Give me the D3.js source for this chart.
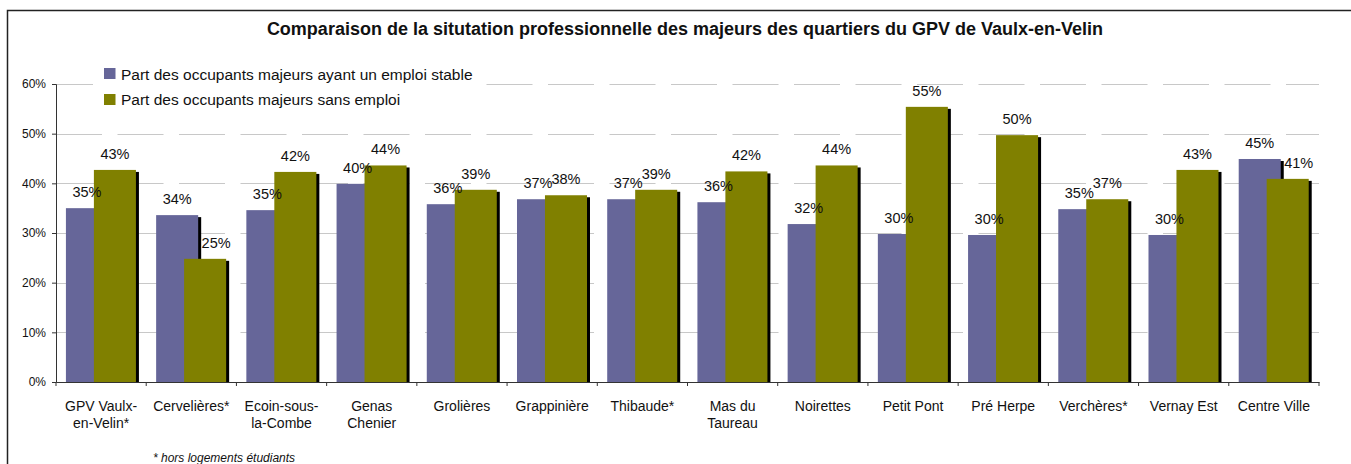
<!DOCTYPE html>
<html>
<head>
<meta charset="utf-8">
<script src="https://cdn.jsdelivr.net/npm/d3@7"></script>
<style>
    body { margin: 0; background: #fff; }
    svg { font-family: "Liberation Sans", Arial, sans-serif; }
</style>
</head>
<body>
<svg id="chart"></svg>
<script>
            // quartiers (\n = retour a la ligne du libelle)
            var categories = ["GPV Vaulx-\nen-Velin*", "Cervelières*", "Ecoin-sous-\nla-Combe", "Genas\nChenier",
                "Grolières", "Grappinière", "Thibaude*", "Mas du\nTaureau", "Noirettes", "Petit Pont",
                "Pré Herpe", "Verchères*", "Vernay Est", "Centre Ville"];

            var emploiStable = [0.350, 0.336, 0.346, 0.399, 0.358, 0.368, 0.368, 0.362, 0.318, 0.298, 0.296, 0.348, 0.296, 0.449];
            var sansEmploi   = [0.427, 0.248, 0.423, 0.436, 0.387, 0.376, 0.387, 0.424, 0.436, 0.554, 0.497, 0.368, 0.427, 0.409];

            var seriesNames = ["Part des occupants majeurs ayant un emploi stable", "Part des occupants majeurs sans emploi"];
            var yTicks = [0, 0.1, 0.2, 0.3, 0.4, 0.5, 0.6];

            var width = 1351;
            var height = 464;
            var margin = {top: 84, left: 56, right: 32, bottom: 82};

            var colors = ["#666699", "#808000"];

            var svg = d3.select("#chart")
                .attr("width", width)
                .attr("height", height);

            // cadre (coupe a droite et en bas)
            svg.append("rect")
                .attr("x", 7.5).attr("y", 10.5)
                .attr("width", width + 20).attr("height", height + 20)
                .attr("fill", "none")
                .attr("stroke", "#222")
                .attr("stroke-width", 1.5);

            svg.append("text")
                .attr("x", 685).attr("y", 35)
                .attr("text-anchor", "middle")
                .attr("font-weight", "bold")
                .attr("font-size", 18)
                .attr("fill", "#111")
                .text("Comparaison de la situtation professionnelle des majeurs des quartiers du GPV de Vaulx-en-Velin");

            var x = d3.scaleBand()
                .domain(categories)
                .range([margin.left, width - margin.right])
                .paddingInner(0).paddingOuter(0);

            var y = d3.scaleLinear()
                .domain([0, 0.6])
                .range([height - margin.bottom, margin.top]);

            var bw = x.bandwidth();
            var barW = bw * 0.466;

            // grille pointillee
            svg.append("g")
                .selectAll("line")
                .data(yTicks.slice(1))
                .enter().append("line")
                .attr("x1", margin.left).attr("x2", width - margin.right)
                .attr("y1", function(d) { return Math.round(y(d)) + 0.5; })
                .attr("y2", function(d) { return Math.round(y(d)) + 0.5; })
                .attr("stroke", "#c8c8c8")
                .attr("stroke-width", 1.2)
                .attr("stroke-dasharray", "46,15.5");

            // barres + ombres
            var groups = svg.append("g")
                .selectAll("g")
                .data(categories)
                .enter().append("g");

            [emploiStable, sansEmploi].forEach(function(values, s) {
                var off = s === 0 ? bw * 0.11 : bw * 0.42;
                groups.append("rect")
                    .attr("x", function(d, i) { return x(d) + off + 3; })
                    .attr("y", function(d, i) { return y(values[i]) + 2; })
                    .attr("width", barW)
                    .attr("height", function(d, i) { return y(0) - y(values[i]) - 2; })
                    .attr("fill", "#000");
                groups.append("rect")
                    .attr("x", function(d, i) { return x(d) + off; })
                    .attr("y", function(d, i) { return y(values[i]); })
                    .attr("width", barW)
                    .attr("height", function(d, i) { return y(0) - y(values[i]); })
                    .attr("fill", colors[s]);
            });

            // etiquettes de valeurs
            var fmt = d3.format(".0%");
            [emploiStable, sansEmploi].forEach(function(values, s) {
                var off = s === 0 ? bw * 0.11 : bw * 0.42;
                svg.append("g")
                    .selectAll("text")
                    .data(categories)
                    .enter().append("text")
                    .attr("x", function(d, i) {
                        var cx = x(d) + off + barW / 2;
                        if (s === 1 && sansEmploi[i] < emploiStable[i]) cx += 11;
                        return cx;
                    })
                    .attr("y", function(d, i) { return y(values[i]) - 11; })
                    .attr("text-anchor", "middle")
                    .attr("font-size", 14.5)
                    .attr("fill", "#111")
                    .text(function(d, i) { return fmt(values[i]); });
            });

            // axes
            var yAxis = svg.append("g")
                .attr("transform", `translate(${margin.left},0)`)
                .call(d3.axisLeft(y).tickValues(yTicks).tickFormat(d3.format(".0%")).tickSize(4).tickPadding(6));

            var xAxis = svg.append("g")
                .attr("transform", `translate(0,${y(0)})`)
                .call(d3.axisBottom(x).tickSize(0).tickFormat(""));

            svg.selectAll(".domain").attr("stroke", "#333");
            yAxis.selectAll("line").attr("stroke", "#333");
            yAxis.selectAll("text").attr("font-size", 12).attr("fill", "#111")
                .attr("font-family", "Liberation Sans, Arial, sans-serif");

            // graduations entre categories
            xAxis.append("g")
                .selectAll("line")
                .data(categories.concat(["fin"]))
                .enter().append("line")
                .attr("x1", function(d, i) { return margin.left + i * bw; })
                .attr("x2", function(d, i) { return margin.left + i * bw; })
                .attr("y1", 0).attr("y2", 4)
                .attr("stroke", "#333");

            var labels = svg.append("g")
                .selectAll("text")
                .data(categories)
                .enter().append("text")
                .attr("text-anchor", "middle")
                .attr("font-size", 14)
                .attr("fill", "#111");

            labels.selectAll("tspan")
                .data(function(d) { return d.split("\n").map(function(t) { return {t: t, c: d}; }); })
                .enter().append("tspan")
                .attr("x", function(d) { return x(d.c) + bw / 2; })
                .attr("y", function(d, j) { return 411 + j * 17; })
                .text(function(d) { return d.t; });

            // legende
            var legend = svg.append("g");
            legend.append("rect")
                .attr("x", 93).attr("y", 60)
                .attr("width", 390).attr("height", 52)
                .attr("fill", "#fff");

            seriesNames.forEach(function(name, s) {
                legend.append("rect")
                    .attr("x", 104).attr("y", 68 + s * 26)
                    .attr("width", 11.5).attr("height", 11)
                    .attr("fill", colors[s]);
                legend.append("text")
                    .attr("x", 121).attr("y", 79.5 + s * 25.5)
                    .attr("font-size", 15.5)
                    .attr("fill", "#111")
                    .text(name);
            });

            svg.append("text")
                .attr("x", 153).attr("y", 462)
                .attr("font-size", 12)
                .attr("font-style", "italic")
                .attr("fill", "#111")
                .text("* hors logements étudiants");
</script>
</body>
</html>
